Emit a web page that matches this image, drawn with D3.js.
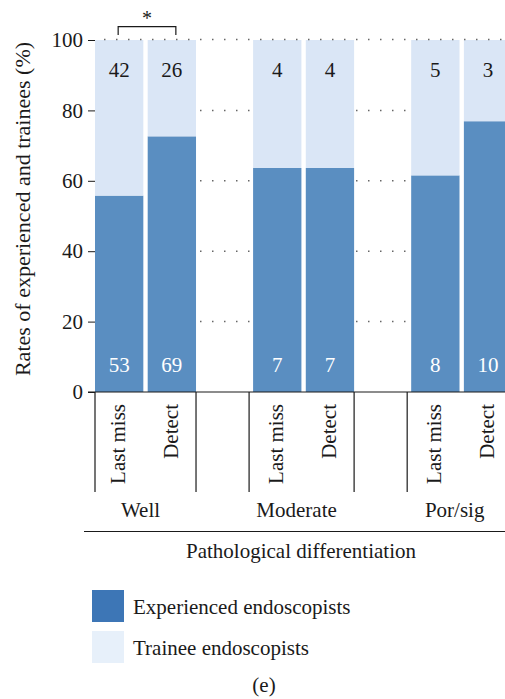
<!DOCTYPE html>
<html>
<head>
<meta charset="utf-8">
<script src="https://cdn.jsdelivr.net/npm/d3@7"></script>
<style>
  body { margin: 0; background: #fff; }
  svg text { font-family: "Liberation Serif", "Times New Roman", Times, "DejaVu Serif", serif; fill: #1a1a1a; }
</style>
</head>
<body>
<div id="chart"></div>
<script>
// groups and conditions
var groups = ["Well", "Moderate", "Por/sig"];
var conditions = ["Last miss", "Detect"];

// counts (experienced / trainee)
var experienced = [53, 69, 7, 7, 8, 10];
var trainee = [42, 26, 4, 4, 5, 3];

var yTicks = [0, 20, 40, 60, 80, 100];
var gridValues = [20, 40, 60, 80, 100];

var seriesKeys = ["experienced", "trainee"];
var seriesNames = ["Experienced endoscopists", "Trainee endoscopists"];
var barColors = { experienced: "#5a8ec1", trainee: "#dae6f6" };
var legendColors = { experienced: "#3d76b6", trainee: "#e7f0fa" };

var serif = "'Liberation Serif', 'Times New Roman', Times, 'DejaVu Serif', serif";

//build rows, one per bar
var rows = [];
groups.forEach(function(g, gi) {
    conditions.forEach(function(c, ci) {
        var i = gi * 2 + ci;
        rows.push({ key: g + "|" + c, group: g, cond: c,
                    experienced: experienced[i], trainee: trainee[i] });
    });
});

//slots on the x axis: two bars per group, an empty slot between groups
var slots = [];
groups.forEach(function(g, gi) {
    if (gi > 0) slots.push("gap" + gi);
    conditions.forEach(function(c) { slots.push(g + "|" + c); });
});

var width = 505, height = 699;

var svg = d3.select("#chart")
    .append("svg")
    .attr("width", width)
    .attr("height", height)
    .attr("font-family", serif);

var x = d3.scaleBand()
    .domain(slots)
    .range([95, 512.2])
    .paddingInner(0.083)
    .paddingOuter(0);

var y = d3.scaleLinear()
    .domain([0, 100])
    .range([392, 40]);

var stacked = d3.stack()
    .keys(seriesKeys)
    .offset(d3.stackOffsetExpand)(rows);

//dotted grid behind the bars
svg.append("g")
    .selectAll("line")
    .data(gridValues.filter(function(v) { return v < 100; }))
    .enter().append("line")
    .attr("x1", 104)
    .attr("x2", width)
    .attr("y1", function(d) { return y(d); })
    .attr("y2", function(d) { return y(d); })
    .style("stroke", "#666")
    .style("stroke-width", 1.5)
    .style("stroke-dasharray", "1.5,10.5");

//stacked bars
var layer = svg.selectAll(".layer")
    .data(stacked)
    .enter().append("g")
    .attr("class", "layer")
    .style("fill", function(d) { return barColors[d.key]; });

layer.selectAll("rect")
    .data(function(d) { return d; })
    .enter().append("rect")
    .attr("x", function(d) { return x(d.data.key); })
    .attr("width", x.bandwidth())
    .attr("y", function(d) { return y(d[1] * 100); })
    .attr("height", function(d) { return y(d[0] * 100) - y(d[1] * 100); });

//top dotted line is drawn over the bars
svg.append("line")
    .attr("x1", 104)
    .attr("x2", width)
    .attr("y1", y(100) - 0.5)
    .attr("y2", y(100) - 0.5)
    .style("stroke", "#666")
    .style("stroke-width", 1.5)
    .style("stroke-dasharray", "1.5,10.5");

//count labels
svg.append("g")
    .selectAll("text")
    .data(rows)
    .enter().append("text")
    .attr("x", function(d) { return x(d.key) + x.bandwidth() / 2; })
    .attr("y", 76.5)
    .attr("text-anchor", "middle")
    .style("font-size", "21px")
    .text(function(d) { return d.trainee; });

svg.append("g")
    .selectAll("text")
    .data(rows)
    .enter().append("text")
    .attr("x", function(d) { return x(d.key) + x.bandwidth() / 2; })
    .attr("y", 371.5)
    .attr("text-anchor", "middle")
    .style("font-size", "21px")
    .style("fill", "#fff")
    .text(function(d) { return d.experienced; });

//y axis
var yAxis = svg.append("g")
    .attr("transform", "translate(95,0)")
    .call(d3.axisLeft(y).tickValues(yTicks).tickSize(7).tickPadding(5))
    .attr("font-family", serif)
    .attr("font-size", 21);
yAxis.select(".domain").remove();
yAxis.selectAll("line").style("stroke", "#1a1a1a");
yAxis.selectAll("text").style("fill", "#1a1a1a");

svg.append("text")
    .attr("transform", "translate(30,209) rotate(-90)")
    .attr("text-anchor", "middle")
    .style("font-size", "22px")
    .text("Rates of experienced and trainees (%)");

//baseline
svg.append("line")
    .attr("x1", 88).attr("x2", width)
    .attr("y1", y(0)).attr("y2", y(0))
    .style("stroke", "#1a1a1a")
    .style("stroke-width", 1.2);

//rotated condition labels
svg.append("g")
    .selectAll("text")
    .data(rows)
    .enter().append("text")
    .attr("transform", function(d) {
        return "translate(" + (x(d.key) + x.bandwidth() / 2 + 6) + ",404) rotate(-90)";
    })
    .attr("text-anchor", "end")
    .style("font-size", "21px")
    .text(function(d) { return d.cond; });

//group separators
groups.forEach(function(g, gi) {
    var x0 = x(g + "|" + conditions[0]);
    var x1 = x(g + "|" + conditions[1]) + x.bandwidth();
    var left = gi === 0 ? x0 : x0 - 4;
    [left, x1].forEach(function(xx) {
        svg.append("line")
            .attr("x1", xx).attr("x2", xx)
            .attr("y1", y(0)).attr("y2", 492)
            .style("stroke", "#1a1a1a")
            .style("stroke-width", 1.2);
    });
    svg.append("text")
        .attr("x", (left + x1) / 2 - 5)
        .attr("y", 517)
        .attr("text-anchor", "middle")
        .style("font-size", "21px")
        .text(g);
});

svg.append("line")
    .attr("x1", 84).attr("x2", width)
    .attr("y1", 531.5).attr("y2", 531.5)
    .style("stroke", "#1a1a1a")
    .style("stroke-width", 1.2);

svg.append("text")
    .attr("x", 301)
    .attr("y", 558)
    .attr("text-anchor", "middle")
    .style("font-size", "21px")
    .text("Pathological differentiation");

//significance bracket
var bx0 = x(rows[0].key) + x.bandwidth() / 2 - 1;
var bx1 = x(rows[1].key) + x.bandwidth() / 2 + 4;
svg.append("path")
    .attr("d", "M" + bx0 + ",35V26.7H" + bx1 + "V35")
    .style("fill", "none")
    .style("stroke", "#1a1a1a")
    .style("stroke-width", 1.2);
svg.append("text")
    .attr("x", (bx0 + bx1) / 2)
    .attr("y", 25)
    .attr("text-anchor", "middle")
    .style("font-size", "20px")
    .text("*");

//legend
var legend = svg.selectAll(".legend")
    .data(seriesKeys)
    .enter().append("g")
    .attr("class", "legend")
    .attr("transform", function(d, i) { return "translate(92," + (590 + i * 41) + ")"; });

legend.append("rect")
    .attr("width", 32)
    .attr("height", 32)
    .style("fill", function(d) { return legendColors[d]; });

legend.append("text")
    .attr("x", 41)
    .attr("y", 23.5)
    .style("font-size", "21px")
    .text(function(d, i) { return seriesNames[i]; });

svg.append("text")
    .attr("x", 264)
    .attr("y", 692)
    .attr("text-anchor", "middle")
    .style("font-size", "21px")
    .text("(e)");
</script>
</body>
</html>
